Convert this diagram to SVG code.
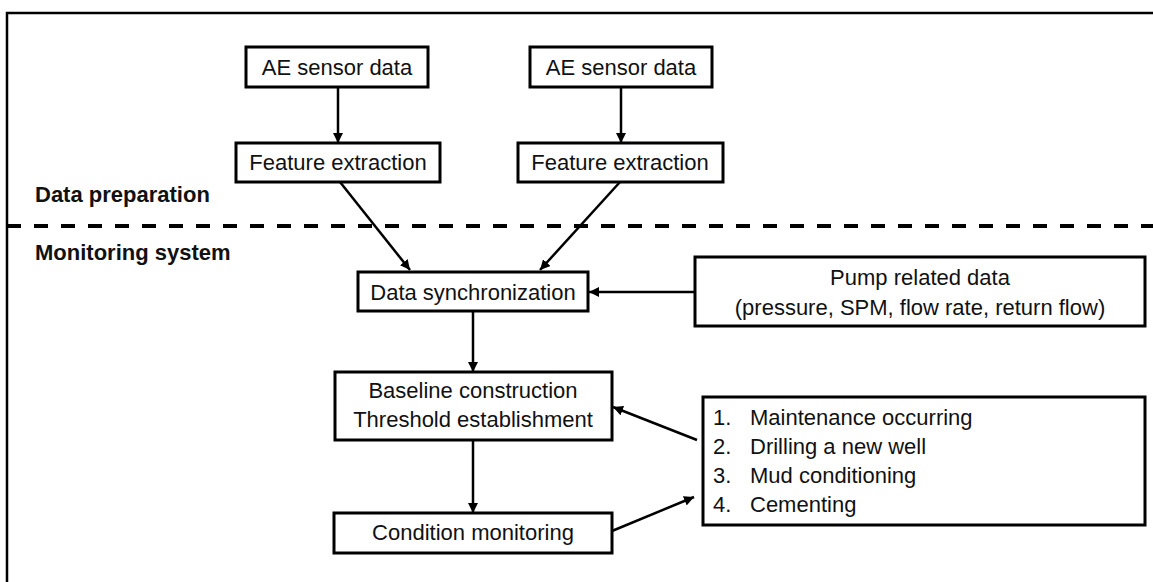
<svg xmlns="http://www.w3.org/2000/svg" width="1153" height="582" viewBox="0 0 1153 582">
<defs>
<style>
.box{fill:#fff;stroke:#000;stroke-width:3}
.t{font-family:"Liberation Sans",Arial,sans-serif;font-size:22px;fill:#111}
.c{text-anchor:middle}
.b{font-weight:bold}
.con{stroke:#000;stroke-width:2.5;fill:none;marker-end:url(#ah)}
</style>
<marker id="ah" viewBox="0 0 10 10" refX="10" refY="5" markerWidth="4" markerHeight="4" orient="auto" markerUnits="strokeWidth">
<path d="M0,0 L10,5 L0,10 z" fill="#000"/>
</marker>
</defs>
<rect width="1153" height="582" fill="#fff"/>
<path d="M7,582 V13 H1153" fill="none" stroke="#000" stroke-width="2.5"/>
<line x1="7" y1="226" x2="1153" y2="226" stroke="#000" stroke-width="4" stroke-dasharray="14 13"/>
<text class="t b" x="35" y="202">Data preparation</text>
<text class="t b" x="35" y="260">Monitoring system</text>
<g id="connectors">
<line class="con" x1="338" y1="87" x2="338" y2="143"/>
<line class="con" x1="621" y1="87" x2="621" y2="143"/>
<line class="con" x1="340" y1="182" x2="410" y2="270"/>
<line class="con" x1="620" y1="182" x2="540" y2="270"/>
<line class="con" x1="695" y1="292" x2="589" y2="292"/>
<line class="con" x1="473" y1="311" x2="473" y2="372"/>
<line class="con" x1="473" y1="440" x2="473" y2="513"/>
<line class="con" x1="697" y1="440" x2="613" y2="407"/>
<line class="con" x1="612" y1="531" x2="694" y2="497"/>
</g>
<g id="ae1"><rect class="box" x="246" y="47" width="182" height="40"/><text class="t c" x="337" y="75">AE sensor data</text></g>
<g id="ae2"><rect class="box" x="530" y="47" width="182" height="40"/><text class="t c" x="621" y="75">AE sensor data</text></g>
<g id="fe1"><rect class="box" x="236" y="143" width="204" height="39"/><text class="t c" x="338" y="170">Feature extraction</text></g>
<g id="fe2"><rect class="box" x="518" y="143" width="205" height="39"/><text class="t c" x="620" y="170">Feature extraction</text></g>
<g id="sync"><rect class="box" x="358" y="272" width="230" height="39"/><text class="t c" x="473" y="300">Data synchronization</text></g>
<g id="pump"><rect class="box" x="695" y="257" width="450" height="69"/><text class="t c" x="920" y="285">Pump related data</text><text class="t c" x="920" y="315">(pressure, SPM, flow rate, return flow)</text></g>
<g id="baseline"><rect class="box" x="335" y="372" width="277" height="68"/><text class="t c" x="473" y="398">Baseline construction</text><text class="t c" x="473" y="427">Threshold establishment</text></g>
<g id="monitor"><rect class="box" x="334" y="513" width="278" height="40"/><text class="t c" x="473" y="540">Condition monitoring</text></g>
<g id="events"><rect class="box" x="703" y="397" width="442" height="128"/>
<text class="t" x="713" y="425">1.</text><text class="t" x="750" y="425">Maintenance occurring</text>
<text class="t" x="713" y="454">2.</text><text class="t" x="750" y="454">Drilling a new well</text>
<text class="t" x="713" y="483">3.</text><text class="t" x="750" y="483">Mud conditioning</text>
<text class="t" x="713" y="512">4.</text><text class="t" x="750" y="512">Cementing</text>
</g>
</svg>
